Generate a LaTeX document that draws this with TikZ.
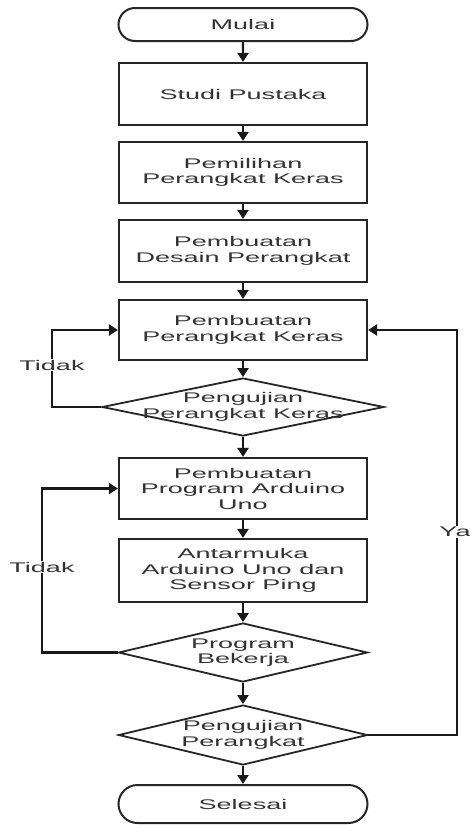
\documentclass[tikz,border=0pt]{standalone}
\usepackage{fontspec}
\setmainfont{Liberation Sans}[FakeStretch=1.93]
\usetikzlibrary{shapes.geometric,shapes.misc,arrows.meta}
\begin{document}
\begin{tikzpicture}[x=1pt,y=-1pt,
  every node/.style={font=\fontsize{14}{15.5}\selectfont, text=black!80, align=center},
  box/.style={draw=black!85, line width=2.2pt, rectangle, minimum width=248pt, inner sep=0pt},
  term/.style={draw=black!85, rounded rectangle, line width=2pt, minimum width=249pt, inner sep=0pt},
  dia/.style={draw=black!85, diamond, line width=1.8pt, inner sep=0pt},
  arr/.style={draw=black!90, line width=2.2pt, -{Triangle[length=9pt,width=11pt]}},
  lbl/.style={fill=white, inner sep=1pt}]
\useasboundingbox (0,0) rectangle (469,825);

\node[term, minimum height=33pt] (mulai) at (243,24.5) {Mulai};
\node[box, minimum height=62pt] (studi) at (243,94) {Studi Pustaka};
\node[box, minimum height=61pt] (pilih) at (243,172.5) {Pemilihan\\Perangkat Keras};
\node[box, minimum height=62pt] (desain) at (243,251) {Pembuatan\\Desain Perangkat};
\node[box, minimum height=60pt] (pk) at (243,330) {Pembuatan\\Perangkat Keras};
\node[dia, minimum width=282pt, minimum height=58pt] (d1) at (243,407) {};
\node (d1t) at (d1.center) {Pengujian\\Perangkat Keras};
\node[box, minimum height=61pt] (prog) at (243,488.5) {Pembuatan\\Program Arduino\\Uno};
\node[box, minimum height=63pt] (antar) at (243,570.5) {Antarmuka\\Arduino Uno dan\\Sensor Ping};
\node[dia, minimum width=249pt, minimum height=59pt] (d2) at (243,652.5) {};
\node (d2t) at (d2.center) {Program\\Bekerja};
\node[dia, minimum width=249pt, minimum height=60pt] (d3) at (243,735) {};
\node (d3t) at (d3.center) {Pengujian\\Perangkat};
\node[term, minimum height=38pt] (selesai) at (243,804) {Selesai};

\coordinate (L1) at (52,0);
\coordinate (L2) at (42,0);
\coordinate (R) at (457,0);

\draw[arr] (mulai) -- (studi);
\draw[arr] (studi) -- (pilih);
\draw[arr] (pilih) -- (desain);
\draw[arr] (desain) -- (pk);
\draw[arr] (pk) -- (d1);
\draw[arr] (d1) -- (prog);
\draw[arr] (prog) -- (antar);
\draw[arr] (antar) -- (d2);
\draw[arr] (d2) -- (d3);
\draw[arr] (d3) -- (selesai);

\draw[arr] (d1.west) -| (L1 |- pk.west) -- (pk.west);
\draw[arr] (d2.west) -| (L2 |- prog.west) -- (prog.west);
\draw[arr] (d3.east) -| (R |- pk.east) -- (pk.east);

\node[lbl] (t1) at (52,365) {Tidak};
\node[lbl] (t2) at (42,567) {Tidak};
\node[lbl] (ya) at (455,532) {Ya};
\end{tikzpicture}
\end{document}
